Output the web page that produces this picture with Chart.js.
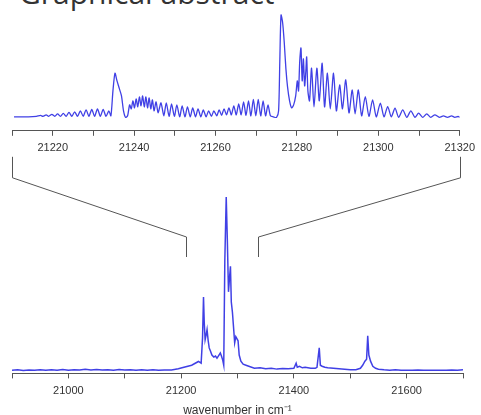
<!DOCTYPE html>
<html>
<head>
<meta charset="utf-8">
<script src="https://cdn.jsdelivr.net/npm/chart.js@4.4.1/dist/chart.umd.min.js"></script>
<style>
  html, body { margin: 0; padding: 0; background: #fff; overflow: hidden; }
  body { width: 481px; height: 415px; position: relative; }
  #titulo { position: absolute; left: 19px; top: -22px; font: 30px/30px "Open Sans", sans-serif; color: #333; white-space: nowrap; }
  #wrapTop { position: absolute; left: 0; top: 0; width: 481px; height: 161px; }
  #wrapBottom { position: absolute; left: 0; top: 180px; width: 481px; height: 238px; }
  #overlay { position: absolute; left: 0; top: 0; }
</style>
</head>
<body>
<div id="titulo">Graphical abstract</div>
<div id="wrapTop"><canvas id="graficoZoom"></canvas></div>
<div id="wrapBottom"><canvas id="graficoCompleto"></canvas></div>
<canvas id="overlay" width="481" height="415"></canvas>
<script>
// --- DATOS: espectro ampliado (arriba) ---
const zoomWave = [
  21210.5, 21214, 21216, 21217, 21217.6, 21218.4, 21219, 21219.8, 21220.5, 21221.2, 21221.9,
  21222.6, 21223.3, 21224, 21224.7, 21225.4, 21226.1, 21226.8, 21227.5, 21228.2, 21228.9,
  21229.6, 21230.3, 21231, 21231.7, 21232.4, 21233.1, 21233.8, 21234.3,
  21234.8, 21235.3, 21235.8, 21236.4, 21236.9, 21237.4, 21237.9, 21238.4, 21238.9,
  21239.3, 21239.7, 21240.1, 21240.5, 21240.9, 21241.3, 21241.7, 21242.1, 21242.5, 21242.9,
  21243.3, 21243.7, 21244.1, 21244.5, 21244.9, 21245.4, 21245.9,
  21246.6, 21247.3, 21247.9, 21248.6, 21249.2, 21249.9, 21250.5, 21251.2, 21251.8, 21252.5,
  21253.1, 21253.8, 21254.4, 21255.1, 21255.7, 21256.4, 21257, 21257.7, 21258.3, 21259,
  21259.6, 21260.3,
  21260.9, 21261.5, 21262.1, 21262.7, 21263.3, 21263.9, 21264.5, 21265.1, 21265.7, 21266.3,
  21266.9, 21267.5, 21268.1, 21268.7, 21269.3, 21269.9, 21270.5, 21271.1, 21271.7, 21272.3,
  21272.9, 21273.5, 21274.2, 21275,
  21275.5, 21275.8, 21276.1, 21276.5, 21276.9, 21277.3, 21277.7, 21278.2, 21278.7, 21279.2, 21279.7,
  21280.1, 21280.4, 21280.7, 21281, 21281.3, 21281.6, 21281.9, 21282.2, 21282.4, 21282.7, 21283.1,
  21283.6, 21284.2, 21284.9, 21285.5, 21286.2, 21286.8, 21287.5, 21288.2, 21289, 21289.7,
  21290.5, 21291.2, 21292, 21292.8, 21293.6, 21294.3, 21295.1, 21295.9, 21296.8, 21297.7,
  21298.6, 21299.5, 21300.5, 21301.4, 21302.3, 21303.2, 21304.1, 21305, 21306, 21307,
  21308, 21309, 21309.9, 21310.9, 21311.9, 21312.9, 21313.9, 21315, 21316, 21317,
  21318, 21318.8, 21319.6, 21320
];
const zoomInt = [
  14, 14, 14.5, 15.5, 14.5, 16, 14.5, 16.5, 14.5, 17, 14.5,
  17.5, 14.5, 18.5, 14.5, 19, 14.5, 20, 14.5, 21, 14.5,
  21.5, 14.5, 22, 14.5, 21.5, 14.5, 20, 15,
  40, 57.7, 50, 42, 35, 20, 13.5, 15, 26,
  22, 30, 23, 32, 24, 34, 25, 35, 24, 34,
  23, 33, 22, 31, 20, 29, 18,
  28, 15, 28, 14.5, 27, 14.5, 26, 14, 25, 14,
  24, 14, 23, 14, 22, 14, 21, 14, 20, 14.5,
  20, 15,
  21, 15.5, 22, 16, 23, 16, 25, 16, 27, 16,
  29, 15.5, 30, 15, 31.5, 15, 31.5, 15, 30, 15,
  26, 15, 14, 13.5,
  20, 70, 116, 108, 88, 62, 44, 30, 23, 26, 35,
  50, 40, 70, 83, 50, 72, 45, 60, 74, 40, 30,
  62.7, 24, 62.7, 30, 67.7, 24, 57.7, 22, 57.7, 20,
  46, 22, 51, 18, 41, 17, 41, 15, 34.3, 14.5,
  31, 14, 27.7, 14, 24.3, 14, 22.7, 13.5, 21, 13.5,
  20, 13.5, 17.7, 13.5, 17, 13.5, 16, 13.5, 15, 13.5,
  15, 13.5, 14.3, 13.5
];

// --- DATOS: espectro completo (abajo) ---
const fullWave = [
  20900, 20910, 20920, 20930, 20940, 20950, 20960, 20970, 20980, 20990,
  21000, 21010, 21020, 21030, 21040, 21050, 21060, 21070, 21080, 21090,
  21100, 21110, 21120, 21130, 21140, 21150, 21160, 21170, 21183, 21195,
  21205, 21218.7, 21230.7, 21235.5, 21238, 21239.7, 21241, 21242.6, 21244.5, 21246,
  21248, 21249.8, 21252, 21254.6, 21258, 21261, 21263.6, 21266, 21269.5, 21271.5,
  21273.8, 21275.6, 21277.5, 21280, 21282, 21284, 21286, 21287.5, 21289, 21291,
  21293, 21295, 21297, 21301, 21303, 21306, 21310, 21315, 21320, 21330,
  21340, 21350, 21360, 21370, 21380, 21390, 21400, 21404, 21406, 21410,
  21415, 21420, 21430, 21438, 21441, 21445, 21447, 21450, 21455, 21460,
  21470, 21480, 21490, 21500, 21510, 21518, 21522, 21526, 21529, 21531,
  21533, 21536, 21540, 21545, 21550, 21560, 21570, 21580, 21590, 21600,
  21610, 21620, 21630, 21640, 21650, 21660, 21670, 21680, 21690, 21700
];
const fullInt = [
  3, 3.5, 2.8, 3.4, 3, 3.6, 3, 3.5, 3.2, 3.8,
  3.2, 3.7, 3.3, 4, 3.4, 3.9, 3.3, 3.7, 3.2, 3.8,
  3.3, 3.6, 3.2, 3.7, 3.2, 3.5, 3.1, 3.4, 3.3, 4.5,
  6, 8, 11.7, 10, 35, 75, 50, 33, 38, 43,
  32, 25, 22, 18, 16, 17, 15, 17, 20, 17,
  13, 8, 110, 173, 130, 80, 95, 105, 70, 60,
  45, 30, 36, 32, 18, 12, 9, 8, 7, 5,
  5.5, 4.5, 5, 4.2, 4.8, 4.5, 5, 10, 6, 7,
  5.5, 6, 5, 5, 6, 25, 8, 7, 6, 5.5,
  5, 4.5, 4, 3.5, 3.5, 5, 8, 12, 14, 37,
  18, 12, 7, 5, 4, 3.5, 3.2, 3.5, 3, 3.2,
  3, 3.3, 3, 3.2, 3, 3.2, 3, 3.4, 3, 3.5
];

// rango ampliado marcado en el espectro completo
const marcasZoom = [21208, 21337];

const colorLinea = 'rgba(30, 30, 225, 0.85)';
const colorEje = '#555';
const colorTexto = '#333';

function puntos(xs, ys) {
  return xs.map((x, i) => ({ x: x, y: ys[i] }));
}

function opcionesEje(min, max, paso, cadaEtiqueta, padding) {
  return {
    type: 'linear', min: min, max: max,
    grid: { drawOnChartArea: false, drawTicks: true, tickLength: 5, color: colorEje, tickWidth: 1 },
    border: { display: true, color: colorEje, width: 1 },
    ticks: {
      stepSize: paso, autoSkip: false, maxRotation: 0, padding: padding,
      color: colorTexto, font: { family: 'Liberation Sans, Arial, sans-serif', size: 11 },
      callback: v => (v % cadaEtiqueta === 0 ? String(v) : '')
    }
  };
}

Chart.defaults.animation = false;

const chartZoom = new Chart(document.getElementById('graficoZoom'), {
  type: 'line',
  data: { datasets: [{ data: puntos(zoomWave, zoomInt), borderColor: colorLinea, borderWidth: 1.3, pointRadius: 0, tension: 0.25 }] },
  options: {
    responsive: true, maintainAspectRatio: false,
    layout: { padding: { left: 12, right: 15, top: 12, bottom: 0 } },
    plugins: { legend: { display: false }, tooltip: { enabled: false } },
    scales: {
      x: opcionesEje(21210, 21320, 10, 20, 6),
      y: { display: false, min: 0, max: 119 }
    }
  }
});

const ejeCompleto = opcionesEje(20900, 21700, 100, 200, 6);
ejeCompleto.title = { display: true, text: 'wavenumber in cm⁻¹', color: colorTexto, padding: { top: 0, bottom: 0 },
  font: { family: 'Liberation Sans, Arial, sans-serif', size: 12 } };

const chartCompleto = new Chart(document.getElementById('graficoCompleto'), {
  type: 'line',
  data: { datasets: [{ data: puntos(fullWave, fullInt), borderColor: colorLinea, borderWidth: 1.5, pointRadius: 0, tension: 0 }] },
  options: {
    responsive: true, maintainAspectRatio: false,
    layout: { padding: { left: 12, right: 18, top: 15, bottom: 0 } },
    plugins: { legend: { display: false }, tooltip: { enabled: false } },
    scales: {
      x: ejeCompleto,
      y: { display: false, min: 0, max: 175 }
    }
  }
});

// --- LINEAS DE AMPLIACION ---
function dibujarCorchetes() {
  const ctx = document.getElementById('overlay').getContext('2d');
  const sx = chartZoom.scales.x;
  const bx = chartCompleto.scales.x;
  const offTop = 180; // posicion del segundo grafico
  const yA = chartZoom.chartArea.bottom + 26, yB = yA + 21;
  const yD = offTop + chartCompleto.chartArea.top + 62, yC = yD - 20;
  const lados = [[sx.left, bx.getPixelForValue(marcasZoom[0])], [sx.right, bx.getPixelForValue(marcasZoom[1])]];
  ctx.strokeStyle = '#555';
  ctx.lineWidth = 1;
  lados.forEach(([xt, xb]) => {
    ctx.beginPath();
    ctx.moveTo(Math.round(xt) + 0.5, yA);
    ctx.lineTo(Math.round(xt) + 0.5, yB);
    ctx.lineTo(Math.round(xb) + 0.5, yC);
    ctx.lineTo(Math.round(xb) + 0.5, yD);
    ctx.stroke();
  });
}
dibujarCorchetes();
</script>
</body>
</html>
